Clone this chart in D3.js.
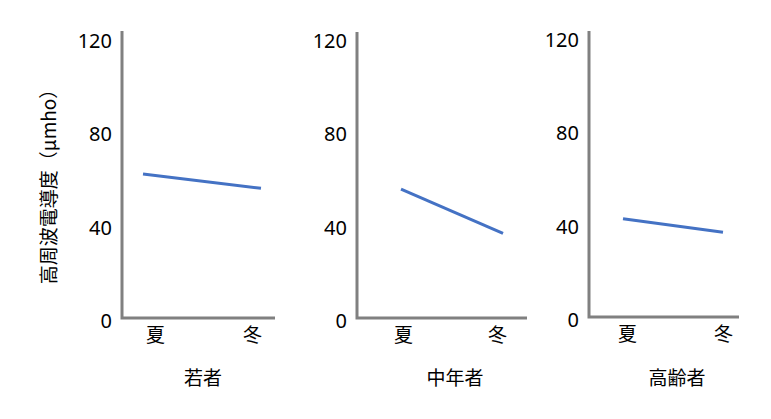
<!DOCTYPE html>
<html>
<head>
<meta charset="utf-8">
<script src="https://cdn.jsdelivr.net/npm/d3@7"></script>
<style>
  body { margin: 0; background: #fff; }
  svg { font-family: "Noto Sans CJK JP", "Noto Sans", sans-serif; }
</style>
</head>
<body>
<div id="chart-area"></div>
<script>
// data
let seasons = ["夏", "冬"]
let groups = ["若者", "中年者", "高齢者"]
let young = [61.7, 55.6]
let middle = [55.2, 36.3]
let elderly = [42.1, 36.3]
let yTicks = [0, 40, 80, 120]
let yTitle = "高周波電導度（μmho）"

let series = [young, middle, elderly]

// panel layout (pixels)
let panels = [
  { ax: 122, top: 31, bottom: 318, right: 275, l0: 143, l1: 261, c0: 155, c1: 252, gx: 203 },
  { ax: 357, top: 32, bottom: 318, right: 527, l0: 401, l1: 503, c0: 403, c1: 497, gx: 455 },
  { ax: 589, top: 31, bottom: 317, right: 739, l0: 623, l1: 723, c0: 627, c1: 723, gx: 677 }
]

let svg = d3.select("#chart-area").append("svg")
            .attr("width", 771)
            .attr("height", 419)

svg.append("rect")
   .attr("width", 771)
   .attr("height", 419)
   .attr("fill", "#fff")

panels.forEach((p, i) => {
  let g = svg.append("g")

  let y = d3.scaleLinear()
            .domain([0, 120])
            .range([p.bottom, p.bottom - 280])

  let xLine = d3.scalePoint()
                .domain(seasons)
                .range([p.l0, p.l1])

  let xLabel = d3.scalePoint()
                 .domain(seasons)
                 .range([p.c0, p.c1])

  // y tick labels
  let yAxis = g.append("g")
               .attr("transform", "translate(" + (p.ax - 1) + ",3)")
               .call(d3.axisLeft(y).tickValues(yTicks).tickSize(0).tickPadding(9))
  yAxis.attr("font-size", null).attr("font-family", null)
  yAxis.select(".domain").remove()
  yAxis.selectAll("text")
       .style("font-size", "20px")
       .style("font-family", "'Noto Sans', sans-serif")
       .attr("fill", "#000")

  // x category labels
  let xAxis = g.append("g")
               .attr("transform", "translate(0," + (p.bottom + 10) + ")")
               .call(d3.axisBottom(xLabel).tickSize(0).tickPadding(0))
  xAxis.attr("font-size", null).attr("font-family", null)
  xAxis.select(".domain").remove()
  xAxis.selectAll("text")
       .style("font-size", "19px")
       .attr("fill", "#000")

  // axis lines
  g.append("path")
   .attr("d", "M" + p.ax + "," + p.top + "V" + p.bottom + "H" + p.right)
   .attr("fill", "none")
   .attr("stroke", "#808080")
   .attr("stroke-width", 3)

  // data line
  let line = d3.line()
               .x((d, j) => xLine(seasons[j]))
               .y(d => y(d))
  g.append("path")
   .datum(series[i])
   .attr("d", line)
   .attr("fill", "none")
   .attr("stroke", "#4472C4")
   .attr("stroke-width", 3)

  // group label
  g.append("text")
   .attr("x", p.gx)
   .attr("y", 378)
   .attr("dy", "0.35em")
   .attr("text-anchor", "middle")
   .style("font-size", "19px")
   .text(groups[i])
})

// y title
svg.append("text")
   .attr("transform", "translate(49,182) rotate(-90)")
   .attr("dy", "0.35em")
   .attr("text-anchor", "middle")
   .style("font-size", "19px")
   .attr("fill", "#000")
   .text(yTitle)
</script>
</body>
</html>
